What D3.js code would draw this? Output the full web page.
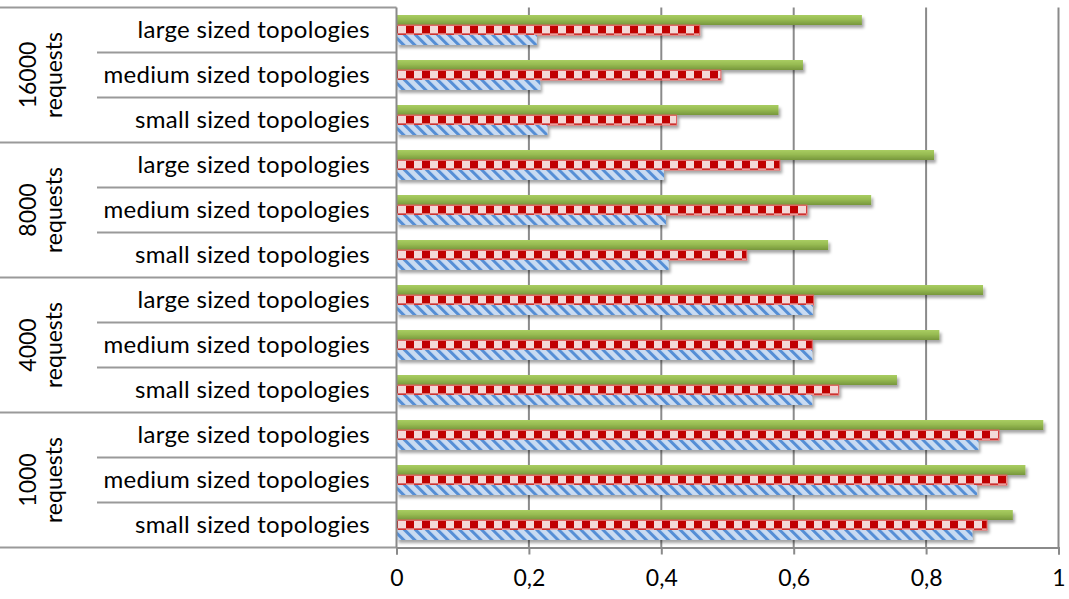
<!DOCTYPE html>
<html>
<head>
<meta charset="utf-8">
<script src="https://cdn.jsdelivr.net/npm/d3@7"></script>
<style>
  html, body { margin: 0; padding: 0; background: #fff; }
  svg { display: block; }
  text { font-family: Lato, "Open Sans", "Noto Sans", sans-serif; fill: #000; }
</style>
</head>
<body>
<svg id="chart" width="1069" height="599"></svg>
<script>
// Request-volume groups (bottom to top) and topology sizes inside each group (bottom to top)
const requestGroups = ["1000", "4000", "8000", "16000"];
const topologySizes = ["small sized topologies", "medium sized topologies", "large sized topologies"];

// Series values, ordered group by group (1000, 4000, 8000, 16000), sizes small, medium, large
const greenSeries = [0.931, 0.950, 0.977,  0.756, 0.820, 0.886,  0.652, 0.717, 0.812,  0.577, 0.614, 0.703];
const redSeries   = [0.892, 0.922, 0.910,  0.668, 0.628, 0.630,  0.529, 0.620, 0.579,  0.423, 0.490, 0.458];
const blueSeries  = [0.870, 0.877, 0.879,  0.628, 0.628, 0.629,  0.411, 0.407, 0.404,  0.228, 0.217, 0.212];

const seriesNames = ["green", "red", "blue"];
const xTickValues = [0, 0.2, 0.4, 0.6, 0.8, 1];
const xTickLabels = ["0", "0,2", "0,4", "0,6", "0,8", "1"];

// Build rows: one per (group, size)
const rows = [];
requestGroups.forEach((g, gi) => {
  topologySizes.forEach((s, si) => {
    const k = gi * topologySizes.length + si;
    rows.push({ id: g + "|" + s, group: g, size: s, gi, si,
      values: { green: greenSeries[k], red: redSeries[k], blue: blueSeries[k] } });
  });
});

const svg = d3.select("#chart");
const plotLeft = 396.5, plotRight = 1058.5, plotTop = 7.5, plotBottom = 547.5;

const x = d3.scaleLinear().domain([0, 1]).range([plotLeft, plotRight]);
const y = d3.scaleBand().domain(rows.map(r => r.id)).range([plotBottom, plotTop]).padding(0);
const ySeries = d3.scaleBand().domain(seriesNames).range([0, y.bandwidth()])
  .paddingInner(0).paddingOuter(0.75);

// ---- fills ----
const defs = svg.append("defs");

const grad = defs.append("linearGradient").attr("id", "greenFill")
  .attr("x1", 0).attr("y1", 0).attr("x2", 0).attr("y2", 1);
grad.append("stop").attr("offset", "0%").attr("stop-color", "#a9cd62");
grad.append("stop").attr("offset", "45%").attr("stop-color", "#97bb52");
grad.append("stop").attr("offset", "100%").attr("stop-color", "#77973c");

const checker = defs.append("pattern").attr("id", "checker")
  .attr("patternUnits", "userSpaceOnUse").attr("x", 6).attr("y", 2)
  .attr("width", 16).attr("height", 16);
checker.append("rect").attr("width", 16).attr("height", 16).attr("fill", "#f3d9d8");
checker.append("rect").attr("x", 0).attr("y", 0).attr("width", 8).attr("height", 8).attr("fill", "#c00000");
checker.append("rect").attr("x", 8).attr("y", 8).attr("width", 8).attr("height", 8).attr("fill", "#c00000");

const stripes = defs.append("pattern").attr("id", "stripes")
  .attr("patternUnits", "userSpaceOnUse").attr("width", 7.8).attr("height", 7.8)
  .attr("patternTransform", "rotate(-45)");
stripes.append("rect").attr("width", 7.8).attr("height", 7.8).attr("fill", "#c9dbf2");
stripes.append("rect").attr("x", 0).attr("y", 0).attr("width", 3).attr("height", 7.8).attr("fill", "#558ed5");

const shadow = defs.append("filter").attr("id", "shadow")
  .attr("x", "-5%").attr("y", "-50%").attr("width", "115%").attr("height", "250%");
shadow.append("feDropShadow").attr("dx", 2).attr("dy", 3).attr("stdDeviation", 1.4)
  .attr("flood-color", "#000").attr("flood-opacity", 0.35);

const fills = { green: "url(#greenFill)", red: "url(#checker)", blue: "url(#stripes)" };

// ---- vertical gridlines + bottom axis ----
const xAxis = d3.axisBottom(x).tickValues(xTickValues)
  .tickFormat((d, i) => xTickLabels[i]).tickSize(7).tickPadding(15);
const gx = svg.append("g").attr("transform", `translate(0,${plotBottom})`).call(xAxis);
gx.select(".domain").attr("stroke", "#8a8a8a").attr("stroke-width", 2);
gx.selectAll(".tick line").attr("stroke", "#8a8a8a").attr("stroke-width", 2);
gx.selectAll(".tick text").style("font-size", "23px").attr("fill", "#000");

svg.append("g").selectAll("line").data(xTickValues.filter(v => v > 0)).join("line")
  .attr("x1", d => x(d)).attr("x2", d => x(d))
  .attr("y1", plotTop).attr("y2", plotBottom)
  .attr("stroke", "#8a8a8a").attr("stroke-width", 2);

// ---- bars ----
const rowG = svg.append("g").selectAll("g").data(rows).join("g")
  .attr("transform", d => `translate(0,${y(d.id)})`);

seriesNames.forEach(s => {
  rowG.append("rect")
    .attr("x", x(0))
    .attr("y", ySeries(s))
    .attr("width", d => x(d.values[s]) - x(0))
    .attr("height", ySeries.bandwidth())
    .attr("fill", fills[s])
    .attr("filter", "url(#shadow)")
    .attr("stroke", s === "red" ? "#e0605f" : "none")
    .attr("stroke-width", s === "red" ? 1 : 0);
});

// ---- category axis: separators and labels ----
const sep = svg.append("g").attr("stroke", "#9a9a9a").attr("stroke-width", 2);
rows.forEach(r => {
  const yTop = y(r.id);
  sep.append("line")
    .attr("x1", r.si === topologySizes.length - 1 ? 0 : 97).attr("x2", plotLeft)
    .attr("y1", yTop).attr("y2", yTop);
});
sep.append("line").attr("x1", 0).attr("x2", plotLeft).attr("y1", plotBottom).attr("y2", plotBottom);
sep.append("line").attr("x1", plotLeft).attr("x2", plotLeft).attr("y1", plotTop).attr("y2", plotBottom)
  .attr("stroke", "#8a8a8a");

svg.append("g").selectAll("text").data(rows).join("text")
  .attr("x", 370)
  .attr("y", d => y(d.id) + y.bandwidth() / 2 + 8)
  .attr("text-anchor", "end")
  .style("font-size", "24px")
  .style("letter-spacing", "0.3px")
  .text(d => d.size);

requestGroups.forEach((g, gi) => {
  const ids = rows.filter(r => r.gi === gi).map(r => r.id);
  const yc = (y(ids[0]) + y.bandwidth() + y(ids[ids.length - 1])) / 2;
  const t = svg.append("text")
    .attr("transform", `translate(0,${yc}) rotate(-90)`)
    .attr("text-anchor", "middle")
    .style("font-size", "23px");
  t.append("tspan").attr("x", 0).attr("y", 36).text(g);
  t.append("tspan").attr("x", 0).attr("y", 62).text("requests");
});
</script>
</body>
</html>
